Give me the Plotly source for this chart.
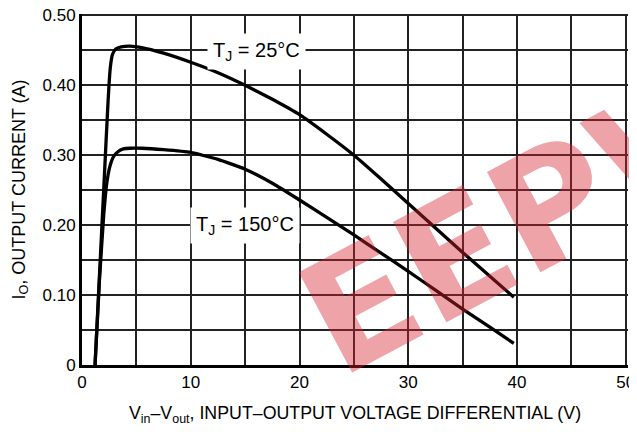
import plotly.graph_objects as go

# Data
v_25 = [1.2, 1.6, 2.0, 2.4, 2.6, 2.8, 3.1, 3.6, 4.4, 5.5, 7.5, 10, 12.5, 15, 17.5, 20, 22.5, 25, 27.5, 30, 32.5, 35, 37.5, 39.7]
i_25 = [0, 0.126, 0.252, 0.378, 0.425, 0.444, 0.452, 0.455, 0.456, 0.454, 0.446, 0.433, 0.418, 0.400, 0.380, 0.358, 0.330, 0.300, 0.266, 0.231, 0.196, 0.161, 0.127, 0.097]

v_150 = [1.2, 1.6, 2.0, 2.2, 2.4, 2.6, 2.9, 3.3, 3.8, 4.4, 5.5, 7.5, 10, 12.5, 15, 17.5, 20, 22.5, 25, 27.5, 30, 32.5, 35, 37.5, 39.7]
i_150 = [0, 0.12, 0.215, 0.25, 0.272, 0.286, 0.298, 0.305, 0.309, 0.310, 0.310, 0.308, 0.304, 0.294, 0.280, 0.260, 0.236, 0.211, 0.186, 0.160, 0.134, 0.107, 0.080, 0.054, 0.031]

x_grid = [0, 5, 10, 15, 20, 25, 30, 35, 40, 45, 50]
x_labels = ["0", "", "10", "", "20", "", "30", "", "40", "", "50"]
y_grid = [0, 0.05, 0.10, 0.15, 0.20, 0.25, 0.30, 0.35, 0.40, 0.45, 0.50]
y_labels = ["0", "", "0.10", "", "0.20", "", "0.30", "", "0.40", "", "0.50"]

label_25 = "T<sub>J</sub> = 25°C"
label_150 = "T<sub>J</sub> = 150°C"
label_pos_25 = (16.0, 0.448)
label_pos_150 = (15.0, 0.199)

FONT = "Liberation Sans, Arial, sans-serif"

fig = go.Figure()
for vx, iy in [(v_25, i_25), (v_150, i_150)]:
    fig.add_trace(go.Scatter(x=vx, y=iy, mode="lines",
                             line=dict(color="black", width=3.3, shape="spline", smoothing=0.4),
                             showlegend=False, hoverinfo="skip"))

for txt, (ax, ay) in [(label_25, label_pos_25), (label_150, label_pos_150)]:
    fig.add_annotation(x=ax, y=ay, xref="x", yref="y", text=txt, showarrow=False,
                       font=dict(family=FONT, size=20, color="black"),
                       bgcolor="white", borderpad=5)

# watermark
fig.add_annotation(x=0.83, y=0.43, xref="paper", yref="paper", text="<b>EEPW</b>",
                   showarrow=False, textangle=-28, xanchor="center", yanchor="middle",
                   font=dict(family="DejaVu Sans", size=156, color="rgba(215,35,50,0.42)"))

# the page body adds an 8 px offset; the figure is sized to fill the rest of the window.
# ranges run a hair past the last grid value so the top/right grid lines are not clipped.
fig.update_layout(
    width=629, height=424,
    margin=dict(l=74, r=8.8, t=5.6, b=67, autoexpand=False),
    paper_bgcolor="white", plot_bgcolor="white",
    font=dict(family=FONT, size=17, color="black"),
    xaxis=dict(range=[0, 50.2], tickvals=x_grid, ticktext=x_labels, ticks="", automargin=False,
               ticklabeloverflow="allow",
               showgrid=True, gridcolor="#222", gridwidth=1.5,
               showline=True, linecolor="black", linewidth=3, zeroline=False,
               title=dict(text="V<sub>in</sub>–V<sub>out</sub>, INPUT–OUTPUT VOLTAGE DIFFERENTIAL (V)",
                          font=dict(size=17.8), standoff=16)),
    yaxis=dict(range=[0, 0.502], tickvals=y_grid, ticktext=y_labels, ticks="", automargin=False,
               ticklabeloverflow="allow",
               showgrid=True, gridcolor="#222", gridwidth=1.5,
               showline=True, linecolor="black", linewidth=3, zeroline=False,
               title=dict(text="I<sub>O</sub>, OUTPUT CURRENT (A)", font=dict(size=18), standoff=13)),
)

fig.write_html("out.html")
